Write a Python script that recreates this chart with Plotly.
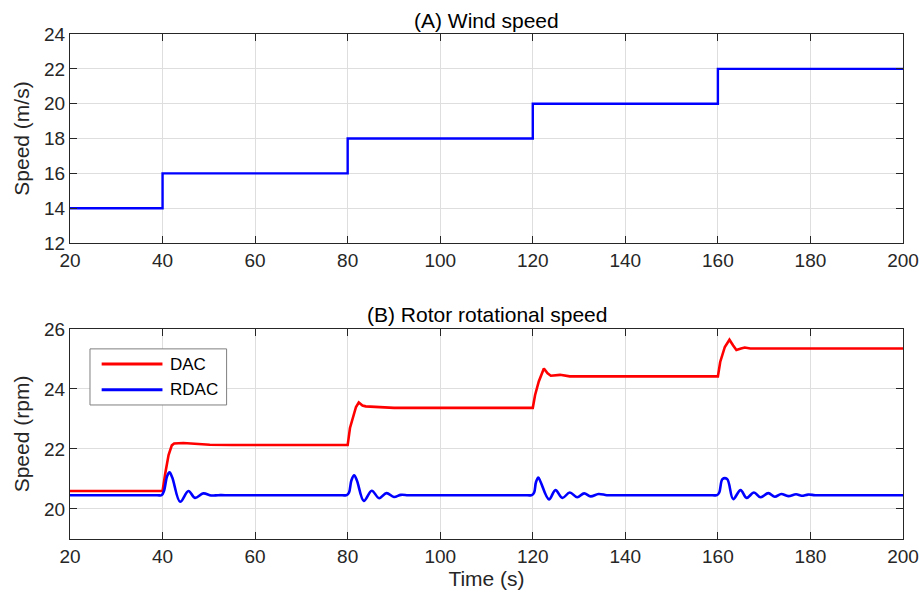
import plotly.graph_objects as go

# ---- Data ----
wind_t = [20, 40, 80, 120, 160, 200]
wind_v = [14, 16, 18, 20, 22, 22]

dac_t = [20, 40, 40.6, 41.3, 42.0, 42.5, 44.5, 47, 50.2, 55,
         80, 80.5, 81.2, 81.8, 82.4, 83.2, 83.9, 86, 90,
         120, 120.5, 121.3, 122.4, 123.2, 123.9, 125.9, 128,
         160, 160.5, 161.5, 162.5, 163.3, 164.0, 165.0, 165.8, 167, 200]
dac_v = [20.6, 20.6, 21.2, 21.8, 22.12, 22.18, 22.2, 22.17, 22.14, 22.13,
         22.13, 22.7, 23.1, 23.4, 23.55, 23.45, 23.42, 23.40, 23.37,
         23.37, 23.8, 24.25, 24.68, 24.52, 24.44, 24.47, 24.42,
         24.42, 24.9, 25.4, 25.64, 25.45, 25.30, 25.35, 25.38, 25.35, 25.35]

rdac_t = [20, 38.8, 39.8, 40.3, 41.0, 41.5, 42.1, 43.8, 45.6, 47.0, 48.8, 50.5, 52, 53.5,
          78.8, 79.8, 80.3, 80.8, 81.4, 82.0, 83.5, 85.2, 86.8, 88.4, 90.0, 91.5, 93, 94.5,
          118.8, 119.8, 120.3, 120.7, 121.2, 121.7, 123.5, 124.9, 126.4, 128.0, 129.6,
          131.1, 132.5, 134.2, 136, 137.5,
          158.8, 159.8, 160.3, 161.0, 162.0, 163.3, 164.9, 166.2, 167.8, 169.2, 170.9,
          172.3, 173.7, 175.2, 176.9, 178.1, 179.5, 181, 182.5, 200]
rdac_v = [20.46, 20.46, 20.46, 20.6, 21.1, 21.22, 21.05, 20.24, 20.6, 20.37, 20.52, 20.45, 20.46, 20.46,
          20.46, 20.46, 20.55, 20.95, 21.12, 20.95, 20.27, 20.61, 20.36, 20.53, 20.40, 20.47, 20.46, 20.46,
          20.46, 20.46, 20.55, 20.9, 21.05, 20.9, 20.32, 20.63, 20.37, 20.55, 20.39,
          20.52, 20.42, 20.5, 20.46, 20.46,
          20.46, 20.46, 20.55, 21.0, 21.0, 20.33, 20.63, 20.37, 20.55, 20.39, 20.53,
          20.41, 20.5, 20.43, 20.49, 20.44, 20.48, 20.46, 20.46, 20.46]

x_ticks = list(range(20, 201, 20))
ya_ticks = list(range(12, 25, 2))
yb_ticks = [20, 22, 24, 26]

TXT = "#262626"
GRID = "#dedede"
FONT = "Liberation Sans, Arial, Helvetica, sans-serif"
FS = 19      # tick labels
FT = 21      # titles / axis labels
FL = 17      # legend

fig = go.Figure()
fig.add_trace(go.Scatter(x=wind_t, y=wind_v, mode="lines", line=dict(color="#0000ff", width=2.4, shape="hv"),
                         name="Wind", xaxis="x", yaxis="y", showlegend=False))
fig.add_trace(go.Scatter(x=dac_t, y=dac_v, mode="lines", line=dict(color="#ff0000", width=2.6),
                         name="DAC", xaxis="x2", yaxis="y2", showlegend=False))
fig.add_trace(go.Scatter(x=rdac_t, y=rdac_v, mode="lines", line=dict(color="#0000ff", width=2.6, shape="spline", smoothing=1),
                         name="RDAC", xaxis="x2", yaxis="y2", showlegend=False))

axis_common = dict(showline=True, linecolor=TXT, linewidth=1.2, mirror="ticks", ticks="inside",
                   ticklen=7, tickwidth=1.2, tickcolor=TXT, showgrid=True, gridcolor=GRID, gridwidth=1,
                   zeroline=False, automargin=False, tickfont=dict(family=FONT, size=FS, color=TXT))

fig.update_layout(
    width=924, height=606,
    margin=dict(l=70, r=21, t=34, b=67),
    paper_bgcolor="white", plot_bgcolor="white",
    font=dict(family=FONT, size=FS, color=TXT),
    xaxis=dict(domain=[0, 1], anchor="y", range=[20, 200], tickvals=x_ticks, **axis_common),
    yaxis=dict(domain=[0.586, 1], anchor="x", range=[12, 24], tickvals=ya_ticks,
               title=dict(text="Speed (m/s)", standoff=8, font=dict(family=FONT, size=FT, color=TXT)), **axis_common),
    xaxis2=dict(domain=[0, 1], anchor="y2", range=[20, 200], tickvals=x_ticks,
                title=dict(text="Time (s)", standoff=4, font=dict(family=FONT, size=FT, color=TXT)), **axis_common),
    yaxis2=dict(domain=[0, 0.416], anchor="x2", range=[19, 26], tickvals=yb_ticks,
                title=dict(text="Speed (rpm)", standoff=8, font=dict(family=FONT, size=FT, color=TXT)), **axis_common),
    showlegend=False,
)

# panel titles
fig.add_annotation(text="(A) Wind speed", xref="x domain", yref="y domain", x=0.5, y=1,
                   xanchor="center", yanchor="bottom", showarrow=False, yshift=0,
                   font=dict(family=FONT, size=FT, color="black"))
fig.add_annotation(text="(B) Rotor rotational speed", xref="x2 domain", yref="y2 domain", x=0.5, y=1,
                   xanchor="center", yanchor="bottom", showarrow=False, yshift=1,
                   font=dict(family=FONT, size=FT, color="black"))

# legend (manual, MATLAB style)
fig.add_shape(type="rect", xref="x2 domain", yref="y2 domain", x0=0.024, x1=0.188, y0=0.638, y1=0.905,
              line=dict(color="#7f7f7f", width=1), fillcolor="white", layer="above")
leg = [("DAC", "#ff0000", 0.833), ("RDAC", "#0000ff", 0.710)]
for name, col, yy in leg:
    fig.add_shape(type="line", xref="x2 domain", yref="y2 domain", x0=0.038, x1=0.111, y0=yy, y1=yy,
                  line=dict(color=col, width=3), layer="above")
    fig.add_annotation(text=name, xref="x2 domain", yref="y2 domain", x=0.1176, y=yy,
                       xanchor="left", yanchor="middle", showarrow=False,
                       font=dict(family=FONT, size=FL, color="black"))

fig.write_html(
    "out.html",
    config={"displayModeBar": False},
    post_script="document.body.style.margin='0';document.body.style.overflow='hidden';",
)
